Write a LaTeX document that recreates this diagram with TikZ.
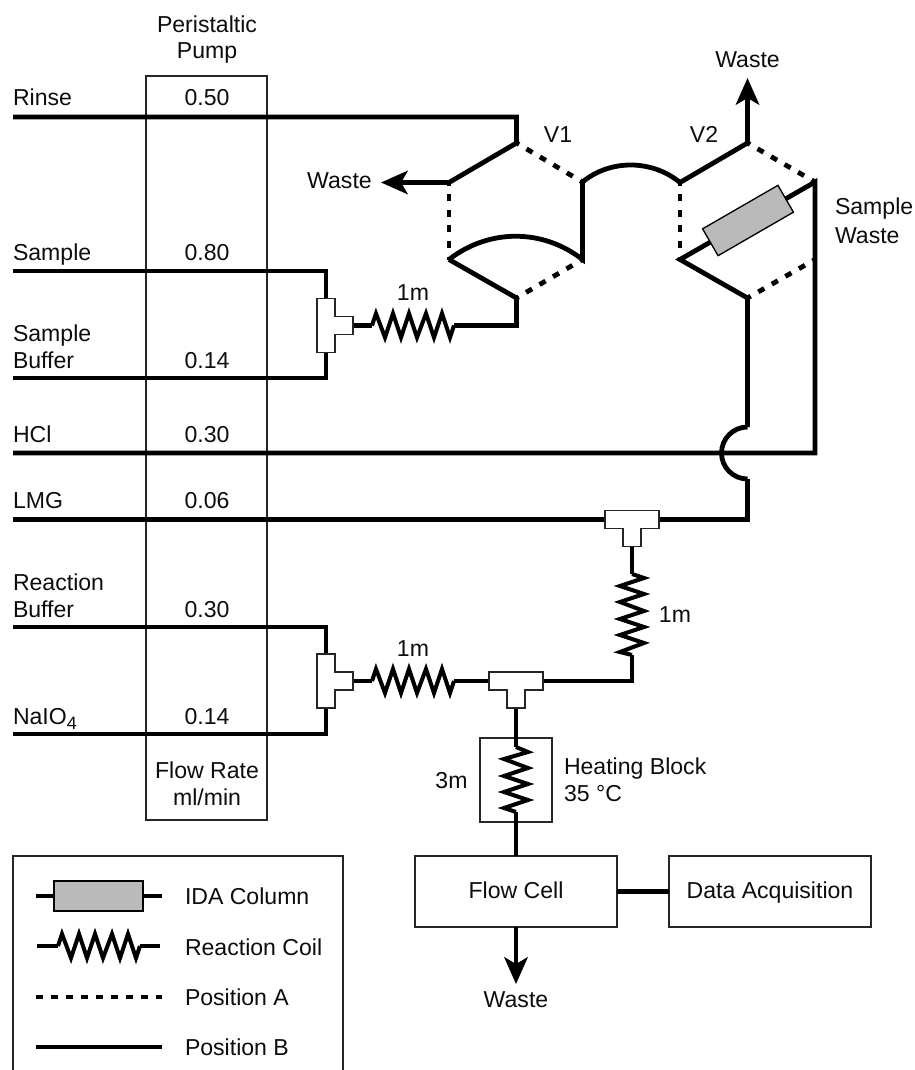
\documentclass[tikz,border=0pt]{standalone}
\usepackage{fontspec}
\setmainfont{Liberation Sans}
\usetikzlibrary{arrows.meta}
\newcommand{\lblfont}{\fontsize{17.3}{20}\selectfont}
\tikzset{
  pipe/.style={line width=3.6pt,line join=miter,line cap=butt,black},
  coilline/.style={line width=3pt,line join=miter,line cap=butt,black},
  valvedash/.style={line width=3.6pt,dash pattern=on 5.2pt off 6.5pt,dash phase=3pt,black},
  keydash/.style={line width=3.6pt,dash pattern=on 5pt off 6.25pt,black},
  thinbox/.style={draw=black!85,line width=1pt,inner sep=0pt,outer sep=0pt,rectangle},
  teebox/.style={draw=black!85,line width=1pt,fill=white,line join=miter},
  lbl/.style={inner sep=0pt,outer sep=0pt,font=\lblfont,anchor=base,text=black!95,align=center},
  lbw/.style={lbl,anchor=base west,align=left},
  arrowpipe/.style={pipe,-{Stealth[length=20pt,width=17.5pt,inset=5pt]}},
  columnbox/.style={draw=black,line width=1pt,fill=black!27,inner sep=0pt,outer sep=0pt,rectangle},
  hcoil/.pic={\draw[coilline] (0,0)--(4,-12)--(13,12)--(21,-12)--(29,12)--(37,-12)--(45,12)--(54,-12)--(62,12)--(70,-12)--(78,12)--(82,0);},
  vcoil/.pic={\draw[coilline] (0,0)--(12,4)--(-12,12)--(12,20)--(-12,28)--(12,37)--(-12,45)--(12,53)--(-12,61)--(12,69)--(-12,78)--(0,81);},
  hbcoil/.pic={\draw[coilline] (0,0)--(12,5)--(-12,12)--(12,21)--(-12,29)--(12,37)--(-12,45)--(12,53)--(-12,61)--(0,65);},
  teedown/.pic={\draw[teebox] (-27,-9)--(27,-9)--(27,9)--(9,9)--(9,27)--(-9,27)--(-9,9)--(-27,9)--cycle;},
  teeright/.pic={\draw[teebox] (-9,-27)--(9,-27)--(9,-9)--(27,-9)--(27,9)--(9,9)--(9,27)--(-9,27)--cycle;},
}
\begin{document}
\begin{tikzpicture}[x=0.75pt,y=-0.75pt]
\useasboundingbox (0,0) rectangle (914,1070);
\fill[white] (0,0) rectangle (914,1070);

% --- thin boxes ---
\node[thinbox,minimum width=121*0.75pt,minimum height=744*0.75pt] (pump) at (206.5,448) {};
\node[thinbox,minimum width=72*0.75pt,minimum height=84*0.75pt] (heat) at (516,780) {};
\node[thinbox,minimum width=202*0.75pt,minimum height=71*0.75pt] (flow) at (516,891.5) {};
\node[thinbox,minimum width=202*0.75pt,minimum height=71*0.75pt] (daq) at (770,891.5) {};
\draw[black!85,line width=1.1pt] (13,1075)--(13,856)--(343,856)--(343,1075);

% --- named points ---
\coordinate (rinse) at (13,117);
\coordinate (sample) at (13,271);
\coordinate (sbuf) at (13,378);
\coordinate (hcl) at (13,453);
\coordinate (lmg) at (13,519.5);
\coordinate (rbuf) at (13,627);
\coordinate (naio) at (13,734);
% valve V1
\coordinate (a1) at (516.5,143);
\coordinate (a2) at (582.5,182);
\coordinate (a3) at (582.5,259.5);
\coordinate (a4) at (516.5,298);
\coordinate (a5) at (449,259.5);
\coordinate (a6) at (449,182.5);
% valve V2
\coordinate (b1) at (747.5,143);
\coordinate (b2) at (815,182);
\coordinate (b3) at (815,259.5);
\coordinate (b4) at (747.5,298);
\coordinate (b5) at (680,259.5);
\coordinate (b6) at (680,182.5);
% tees
\coordinate (t1) at (326,325.5);
\coordinate (t2) at (326,681);
\coordinate (t3) at (632,519.5);
\coordinate (t4) at (516,681);
% coils
\coordinate (c1s) at (372,325.5);
\coordinate (c1e) at (454,325.5);
\coordinate (c2s) at (372,681);
\coordinate (c2e) at (454,681);
\coordinate (c3s) at (632,574);
\coordinate (c3e) at (632,655);
\coordinate (c4s) at (516,747);
\coordinate (c4e) at (516,812);
% jump and arrows
\coordinate (j1) at (747.5,427);
\coordinate (j2) at (747.5,479);
\coordinate (hclend) at (815,453);
\coordinate (lmgend) at (747.5,519.5);
\coordinate (w1) at (381,182.5);
\coordinate (w2) at (747.5,78);
\coordinate (w3) at (516,984);

% --- solid pipes ---
\draw[arrowpipe] (rinse) -| (a1) -- (a6) -- (w1);
\draw[pipe] (sample) -| (t1);
\draw[pipe] (sbuf) -| (t1);
\draw[pipe] (hcl) -- (hclend) -- (b2) -- (b5) -- (b4) -- (j1);
\draw[pipe] (lmg) -- (lmgend) -- (j2);
\draw[pipe] (j2) arc[start angle=90,end angle=270,radius=26];
\draw[pipe] (rbuf) -| (t2);
\draw[pipe] (naio) -| (t2);
\draw[pipe] (t1) -- (c1s);
\draw[pipe] (c1e) -| (a4) -- (a5);
\draw[pipe] (a5) .. controls +(40,-31) and +(-40,-31) .. (a3) -- (a2) .. controls +(28,-23) and +(-28,-23) .. (b6);
\draw[arrowpipe] (b6) -- (b1) -- (w2);
\draw[arrowpipe] (flow.south) -- (w3);
\draw[pipe] (t2) -- (c2s);
\draw[pipe] (c2e) -- (t4);
\draw[pipe] (t4) -| (c3e);
\draw[pipe] (c3s) -- (t3);
\draw[pipe] (t4) -- (c4s);
\draw[pipe] (c4e) -- (flow.north);
\draw[pipe] (flow.east) -- (daq.west);

% --- dashed valve paths ---
\draw[valvedash] (a1) -- (a2);
\draw[valvedash] (a5) -- (a6);
\draw[valvedash] (a3) -- (a4);
\draw[valvedash] (b1) -- (b2);
\draw[valvedash] (b5) -- (b6);
\draw[valvedash] (b3) -- (b4);

% --- coils, tees, column ---
\pic at (c1s) {hcoil};
\pic at (c2s) {hcoil};
\pic at (c3s) {vcoil};
\pic at (c4s) {hbcoil};
\pic at (t1) {teeright};
\pic at (t2) {teeright};
\pic at (t3) {teedown};
\pic at (t4) {teedown};
\node[columnbox,rotate=30,minimum width=87*0.75pt,minimum height=31*0.75pt] (col) at (748,220.5) {};

% --- labels ---
\node[lbl] (lpump) at (207,59) {Peristaltic\\Pump};
\node[lbw] (lrinse) at (13,106) {Rinse};
\node[lbl] (v050) at (207,106) {0.50};
\node[lbw] (lsample) at (13,260) {Sample};
\node[lbl] (v080) at (207,260) {0.80};
\node[lbw] (lsbuf) at (13,368) {Sample\\Buffer};
\node[lbl] (v014a) at (207,368) {0.14};
\node[lbw] (lhcl) at (13,442) {HCl};
\node[lbl] (v030a) at (207,442) {0.30};
\node[lbw] (llmg) at (13,508) {LMG};
\node[lbl] (v006) at (207,508) {0.06};
\node[lbw] (lrbuf) at (13,617) {Reaction\\Buffer};
\node[lbl] (v030b) at (207,617) {0.30};
\node[lbw] (lnaio) at (13,724) {NaIO\raisebox{-0.22em}{\fontsize{13.5}{15}\selectfont 4}};
\node[lbl] (v014b) at (207,724) {0.14};
\node[lbl] (lrate) at (207,805) {Flow Rate\\ml/min};
\node[lbl] (lv1) at (558,143) {V1};
\node[lbl] (lv2) at (704,143) {V2};
\node[lbl] (lw2) at (747.5,68) {Waste};
\node[lbl] (lw1) at (339.5,188) {Waste};
\node[lbw] (lsw) at (835,243) {Sample\\[1.6pt]Waste};
\node[lbl] (l1a) at (413,300) {1m};
\node[lbl] (l1b) at (413,656) {1m};
\node[lbl] (l1c) at (675,622) {1m};
\node[lbl] (l3) at (451.5,788) {3m};
\node[lbw] (lheat) at (564,801) {Heating Block\\35 °C};
\node[lbl] at (flow.center |- 0,898) (lflow) {Flow Cell};
\node[lbl] at (daq.center |- 0,898) (ldaq) {Data Acquisition};
\node[lbl] (lw3) at (516,1007) {Waste};

% --- legend ---
\coordinate (k1a) at (36,896);
\coordinate (k1b) at (162,896);
\coordinate (k2a) at (37,946);
\coordinate (k2s) at (58,946);
\coordinate (k2e) at (140,946);
\coordinate (k2b) at (160,946);
\coordinate (k3a) at (36,997);
\coordinate (k3b) at (162,997);
\coordinate (k4a) at (36,1047);
\coordinate (k4b) at (162,1047);
\draw[pipe] (k1a) -- (k1b);
\node[columnbox,minimum width=89*0.75pt,minimum height=30*0.75pt] (kcol) at (98.5,896) {};
\draw[pipe] (k2a) -- (k2s);
\draw[pipe] (k2e) -- (k2b);
\pic at (k2s) {hcoil};
\draw[keydash] (k3a) -- (k3b);
\draw[pipe] (k4a) -- (k4b);
\node[lbw] (lk1) at (185,904) {IDA Column};
\node[lbw] (lk2) at (185,955) {Reaction Coil};
\node[lbw] (lk3) at (185,1005) {Position A};
\node[lbw] (lk4) at (185,1055) {Position B};
\end{tikzpicture}
\end{document}
